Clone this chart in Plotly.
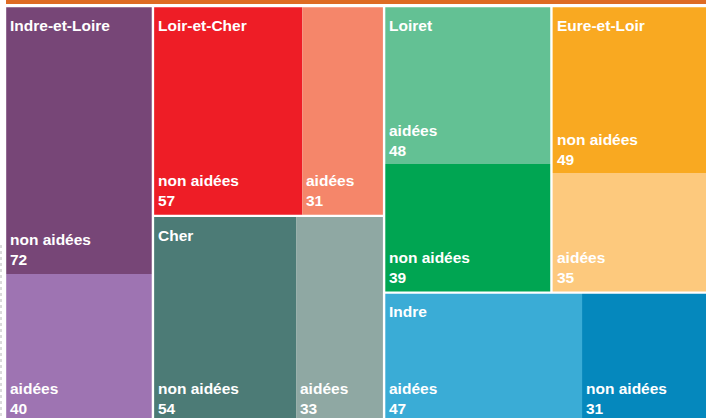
import plotly.graph_objects as go

# Nombre d'entreprises par département, aidées ou non
departements = ["Indre-et-Loire", "Loir-et-Cher", "Cher", "Loiret", "Eure-et-Loir", "Indre"]
non_aidees = [72, 57, 54, 39, 49, 31]
aidees = [40, 31, 33, 48, 35, 47]
categories = ["non aidées", "aidées"]

# Couleurs (non aidées, aidées) de chaque département
couleurs = {
    "Indre-et-Loire": ("#774677", "#9e74b2"),
    "Loir-et-Cher": ("#ee1d26", "#f5866a"),
    "Cher": ("#4c7b76", "#8fa8a3"),
    "Loiret": ("#00a552", "#63c194"),
    "Eure-et-Loir": ("#f9a921", "#fdc97d"),
    "Indre": ("#0588bd", "#3aacd6"),
}
BANDEAU = "#de6b23"

# Agencement des départements : "h" = côte à côte, "v" = empilés
agencement = ("h", [
    "Indre-et-Loire",
    ("v", ["Loir-et-Cher", "Cher"]),
    ("v", [("h", ["Loiret", "Eure-et-Loir"]), "Indre"]),
])

W, H = 706, 418
CADRE = (5, 6, 713, 423.4)   # x0, y0, x1, y1 de la zone du treemap
ECART = 1.2                  # demi-espace blanc entre départements
RETRAIT = 2                  # retrait horizontal des libellés
FONT = dict(family="Arial, Liberation Sans, sans-serif", size=15.5, color="white")

valeurs = {d: {"non aidées": n, "aidées": a}
           for d, n, a in zip(departements, non_aidees, aidees)}
totaux = {d: sum(v.values()) for d, v in valeurs.items()}


def poids(noeud):
    if isinstance(noeud, str):
        return totaux[noeud]
    return sum(poids(e) for e in noeud[1])


def placer(noeud, x0, y0, x1, y1, sortie):
    if isinstance(noeud, str):
        sortie[noeud] = (x0, y0, x1, y1)
        return
    sens, enfants = noeud
    total = sum(poids(e) for e in enfants)
    pos = x0 if sens == "h" else y0
    for e in enfants:
        part = poids(e) / total
        if sens == "h":
            w = (x1 - x0) * part
            placer(e, pos, y0, pos + w, y1, sortie)
            pos += w
        else:
            h = (y1 - y0) * part
            placer(e, x0, pos, x1, pos + h, sortie)
            pos += h


cases = {}
placer(agencement, *CADRE, cases)

shapes = []
annotations = []

for dep in departements:
    x0, y0, x1, y1 = cases[dep]
    x0, y0, x1, y1 = x0 + ECART, y0 + ECART, x1 - ECART, y1 - ECART
    enfants = sorted(categories, key=lambda c: -valeurs[dep][c])
    total = totaux[dep]
    horizontal = (x1 - x0) > (y1 - y0)
    pos = x0 if horizontal else y0
    for cat in enfants:
        v = valeurs[dep][cat]
        coul = couleurs[dep][0 if cat == "non aidées" else 1]
        if horizontal:
            w = (x1 - x0) * v / total
            r = (pos, y0, pos + w, y1)
        else:
            h = (y1 - y0) * v / total
            r = (x0, pos, x1, pos + h)
        pos = r[2] if horizontal else r[3]
        shapes.append(dict(type="rect", xref="x", yref="y",
                           x0=r[0], y0=r[1], x1=r[2], y1=r[3],
                           fillcolor=coul, line=dict(width=0), layer="below"))
        # ancre placée dans la zone visible, puis décalée vers le bas de la case
        annotations.append(dict(x=r[0] + RETRAIT, y=r[3] - 10, xref="x", yref="y",
                                yshift=-6.5,
                                text=f"<b>{cat}<br>{v}</b>", showarrow=False,
                                xanchor="left", yanchor="bottom", align="left",
                                font=FONT))
    annotations.append(dict(x=x0 + RETRAIT, y=y0 + 7.5, xref="x", yref="y",
                            text=f"<b>{dep}</b>", showarrow=False,
                            xanchor="left", yanchor="top", align="left",
                            font=FONT))

# Bandeau orange au-dessus du treemap
shapes.append(dict(type="rect", xref="x", yref="y",
                   x0=CADRE[0] + 1, x1=W + 10, y0=-2, y1=CADRE[1] - 2,
                   fillcolor=BANDEAU, line=dict(width=0), layer="below"))
# Filet pointillé en marge gauche
shapes.append(dict(type="line", xref="x", yref="y", x0=1, x1=1, y0=245, y1=H,
                   line=dict(color="#b8b8b8", width=1, dash="dot")))

fig = go.Figure()
fig.update_layout(
    width=W, height=H,
    margin=dict(l=0, r=0, t=0, b=0),
    paper_bgcolor="white", plot_bgcolor="white",
    xaxis=dict(range=[0, W], visible=False, fixedrange=True),
    yaxis=dict(range=[H, 0], visible=False, fixedrange=True),
    shapes=shapes, annotations=annotations, showlegend=False,
)
fig.write_html("out.html", config={"displayModeBar": False})
